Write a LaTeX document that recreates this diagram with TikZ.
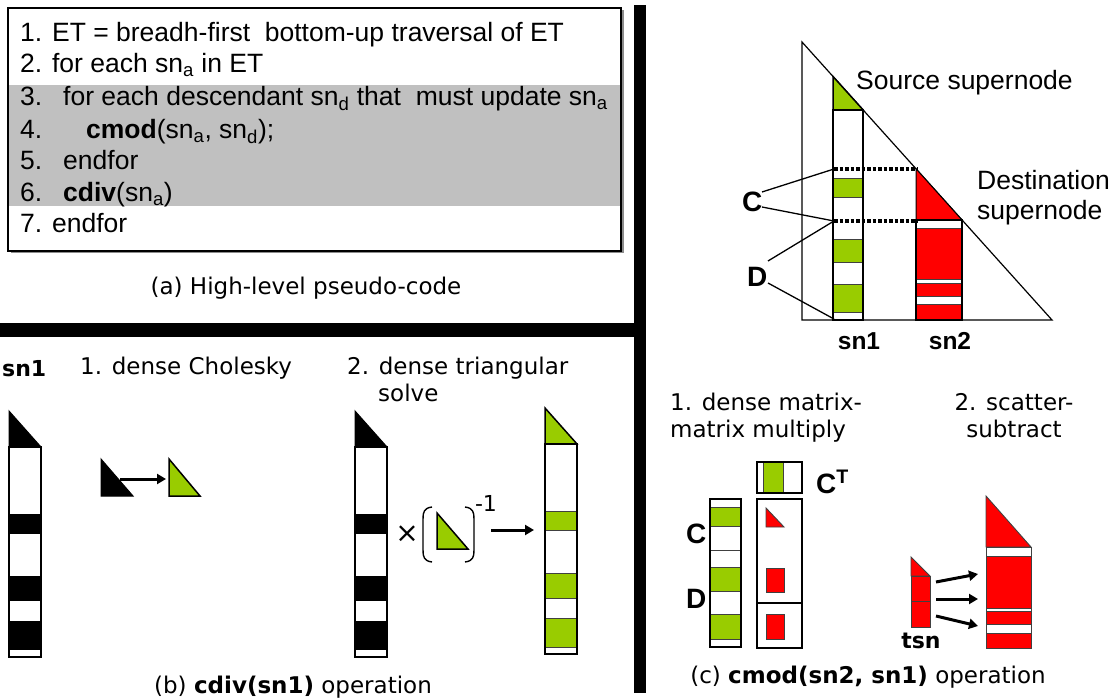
\documentclass[tikz,border=0pt]{standalone}
\usepackage{fontspec}
\setmainfont{Liberation Sans}
\newfontfamily\vf{DejaVu Sans}
\usetikzlibrary{arrows.meta}
\definecolor{lgreen}{RGB}{153,204,0}
\definecolor{band}{RGB}{192,192,192}
\definecolor{rd}{RGB}{255,0,0}
\tikzset{
 code/.style={anchor=base west, inner sep=0pt, font=\fontsize{26.5}{30}\selectfont},
 captxt/.style={anchor=base, inner sep=0pt, font=\vf\fontsize{23}{27}\selectfont},
 bigl/.style={anchor=base west, inner sep=0pt, font=\bfseries\fontsize{28}{32}\selectfont},
 lab/.style={anchor=base, inner sep=0pt, font=\bfseries\fontsize{24.5}{28}\selectfont},
 vlab/.style={anchor=base, inner sep=0pt, font=\vf\bfseries\fontsize{22}{26}\selectfont},
 outl/.style={draw=black, line width=1.5pt},
 stripe/.style={draw=black!75, line width=0.9pt},
 arr/.style={-{Triangle[length=9pt,width=10pt]}, line width=3pt},
 dots/.style={line width=3.6pt, dash pattern=on 3.5pt off 2pt},
 ptr/.style={line width=1.3pt},
}
\begin{document}
\begin{tikzpicture}[x=1pt,y=-1pt]
\useasboundingbox (0,0) rectangle (1114,700);
% ---------------- panel (a)
\fill[black!45] (10.5,10.5) rectangle (623.5,253.5);
\fill[white] (8,8) rectangle (621,251);
\fill[band] (8,85) rectangle (621,206);
\draw[line width=1.5pt] (8,8) rectangle (621,251);
\node[code] (l1) at (20,42) {1. ET = breadh-first\ \ bottom-up traversal of ET};
\node[code] (l2) at (20,73) {2. for each sn\textsubscript{a} in ET};
\node[code] (n3) at (20,106) {3.};
\node[code] (l3) at (63,106) {for each descendant sn\textsubscript{d} that\ \ must update sn\textsubscript{a}};
\node[code] (n4) at (20,139) {4.};
\node[code] (l4) at (86,139) {\textbf{cmod}(sn\textsubscript{a}, sn\textsubscript{d});};
\node[code] (n5) at (20,170) {5.};
\node[code] (l5) at (63,170) {endfor};
\node[code] (n6) at (20,202) {6.};
\node[code] (l6) at (63,202) {\textbf{cdiv}(sn\textsubscript{a})};
\node[code] (l7) at (20,233) {7. endfor};
\node[captxt] (capa) at (306,295) {(a) High-level pseudo-code};
% ---------------- separators
\fill (634,5) rectangle (646,693);
\fill (0,323) rectangle (634,337);
% ---------------- panel (b)
\node[vlab, anchor=base west] (bsn1) at (2,377) {sn1};
\node[captxt, anchor=base west] (b1) at (80,375) {1. dense Cholesky};
\node[captxt, anchor=base west] (b2) at (347,375) {2. dense triangular};
\node[captxt, anchor=base west] (b2b) at (378,402) {solve};
% column 1 and column 2 (black)
\foreach \x in {9,355}{
  \filldraw[black, line width=1pt] (\x,411) -- (\x+32,447) -- (\x,447) -- cycle;
  \fill[white] (\x,447) rectangle (\x+32,657);
  \fill[black] (\x,514) rectangle (\x+32,534);
  \fill[black] (\x,576) rectangle (\x+32,601);
  \fill[black] (\x,621) rectangle (\x+32,650);
  \draw[outl] (\x,447) rectangle (\x+32,657);
}
% column 3 (green)
\filldraw[fill=lgreen, outl] (545,408) -- (577,444) -- (545,444) -- cycle;
\draw[outl, fill=white] (545,444) rectangle (577,654);
\filldraw[fill=lgreen, stripe] (545,511) rectangle (577,530);
\filldraw[fill=lgreen, stripe] (545,573) rectangle (577,598);
\filldraw[fill=lgreen, stripe] (545,618) rectangle (577,647);
\draw[outl] (545,444) rectangle (577,654);
% small triangles
\filldraw[black, line width=1pt] (101,459) -- (133,496) -- (101,496) -- cycle;
\filldraw[fill=lgreen, outl] (169,459) -- (200,496) -- (169,496) -- cycle;
\coordinate (ch1) at (120,479);
\coordinate (ch2) at (166,479);
\draw[arr] (ch1) -- (ch2);
% times, brackets, inverse
\node[inner sep=0pt, font=\vf\fontsize{28}{30}\selectfont] (times) at (407,534) {×};
\draw[line width=1.4pt] (432,507) .. controls (424,508) and (423,512) .. (423,519) -- (423,550) .. controls (423,557) and (424,561) .. (432,562);
\draw[line width=1.4pt] (465,507) .. controls (473,508) and (474,512) .. (474,519) -- (474,550) .. controls (474,557) and (473,561) .. (465,562);
\filldraw[fill=lgreen, outl] (437,513) -- (468,549) -- (437,549) -- cycle;
\node[inner sep=0pt, font=\vf\fontsize{22}{24}\selectfont] (inv) at (486,503) {-1};
\coordinate (sa1) at (491,530);
\coordinate (sa2) at (534,530);
\draw[arr] (sa1) -- (sa2);
\node[captxt] (capb) at (293,693) {(b) \textbf{cdiv(sn1)} operation};
% ---------------- panel (c) top
\draw[line width=1.2pt] (802,42) -- (802,320) -- (1052,320) -- cycle;
% sn1 column
\filldraw[fill=lgreen, outl] (833,76.5) -- (863,109.8) -- (833,109.8) -- cycle;
\draw[outl, fill=white] (833,109.8) rectangle (863,320);
\filldraw[fill=lgreen, stripe] (833,178) rectangle (863,197);
\filldraw[fill=lgreen, stripe] (833,239) rectangle (863,262);
\filldraw[fill=lgreen, stripe] (833,284) rectangle (863,312);
\draw[outl] (833,109.8) rectangle (863,320);
% sn2 column
\filldraw[fill=rd, line width=1pt] (916,168.8) -- (962,220) -- (916,220) -- cycle;
\draw[outl, fill=white] (916,220) rectangle (962,320);
\filldraw[fill=rd, stripe] (916,228) rectangle (962,279);
\filldraw[fill=rd, stripe] (916,283) rectangle (962,296);
\filldraw[fill=rd, stripe] (916,304) rectangle (962,320);
\draw[outl] (916,220) rectangle (962,320);
% dotted lines
\coordinate (d1a) at (834,169);
\coordinate (d1b) at (917,169);
\coordinate (d2a) at (834,221);
\coordinate (d2b) at (917,221);
\draw[dots] (d1a) -- (d1b);
\draw[dots] (d2a) -- (d2b);
\node[bigl] (tC) at (742,212) {C};
\node[bigl] (tD) at (747,287) {D};
\coordinate (c1) at (762,192);
\coordinate (c2) at (762,207);
\coordinate (e1) at (768,261);
\coordinate (e2) at (768,283);
\coordinate (bot) at (834,319);
\draw[ptr] (c1) -- (d1a);
\draw[ptr] (c2) -- (d2a);
\draw[ptr] (e1) -- (d2a);
\draw[ptr] (e2) -- (bot);
\node[code] (src) at (856,90) {Source supernode};
\node[code] (dst1) at (977,190) {Destination};
\node[code] (dst2) at (977,220) {supernode};
\node[lab] (lsn1) at (859,350) {sn1};
\node[lab] (lsn2) at (950,350) {sn2};
% ---------------- panel (c) bottom
\node[captxt, anchor=base west] (c1a) at (670,411) {1. dense matrix-};
\node[captxt, anchor=base west] (c1b) at (670,438) {matrix multiply};
\node[captxt] (c2a) at (1014,411) {2. scatter-};
\node[captxt] (c2b) at (1014,438) {subtract};
% C^T block
\draw[outl, fill=white] (757,462) rectangle (802,493);
\filldraw[fill=lgreen, stripe] (763,462) rectangle (783,493);
\draw[outl] (757,462) rectangle (802,493);
\node[bigl] (CT) at (816,493) {C\textsuperscript{T}};
% left column
\draw[outl, fill=white] (710,499) rectangle (741,647);
\filldraw[fill=lgreen, stripe] (710,507) rectangle (741,526);
\filldraw[fill=lgreen, stripe] (710,567) rectangle (741,591);
\filldraw[fill=lgreen, stripe] (710,614) rectangle (741,639);
\draw[stripe] (710,550) -- (741,550);
\draw[outl] (710,499) rectangle (741,647);
\node[bigl] (bC) at (686,543) {C};
\node[bigl] (bD) at (686,608) {D};
% middle column
\draw[outl, fill=white] (757,499) rectangle (802,648);
\draw[outl] (757,603) -- (802,603);
\filldraw[fill=rd, stripe] (766,508) -- (784,527) -- (766,527) -- cycle;
\filldraw[fill=rd, stripe] (766,568) rectangle (784,592);
\filldraw[fill=rd, stripe] (766,614) rectangle (784,639);
% tsn
\filldraw[fill=rd, stripe] (911,557) -- (930,576) -- (911,576) -- cycle;
\filldraw[fill=rd, stripe] (911,576) rectangle (930,601);
\filldraw[fill=rd, stripe] (911,601) rectangle (930,627);
\node[vlab] (tsn) at (921,648) {tsn};
% big red
\filldraw[fill=rd, stripe] (986,496) -- (1031,547) -- (986,547) -- cycle;
\draw[stripe, fill=white] (986,547) rectangle (1031,648);
\filldraw[fill=rd, stripe] (986,556) rectangle (1031,608);
\filldraw[fill=rd, stripe] (986,611) rectangle (1031,624);
\filldraw[fill=rd, stripe] (986,633) rectangle (1031,648);
% arrows
\coordinate (a1s) at (936,582); \coordinate (a1e) at (978,574);
\coordinate (a2s) at (936,599); \coordinate (a2e) at (978,599);
\coordinate (a3s) at (936,616); \coordinate (a3e) at (978,626);
\draw[arr] (a1s) -- (a1e);
\draw[arr] (a2s) -- (a2e);
\draw[arr] (a3s) -- (a3e);
\node[captxt] (capc) at (868,683) {(c) \textbf{cmod(sn2, sn1)} operation};
\end{tikzpicture}
\end{document}
